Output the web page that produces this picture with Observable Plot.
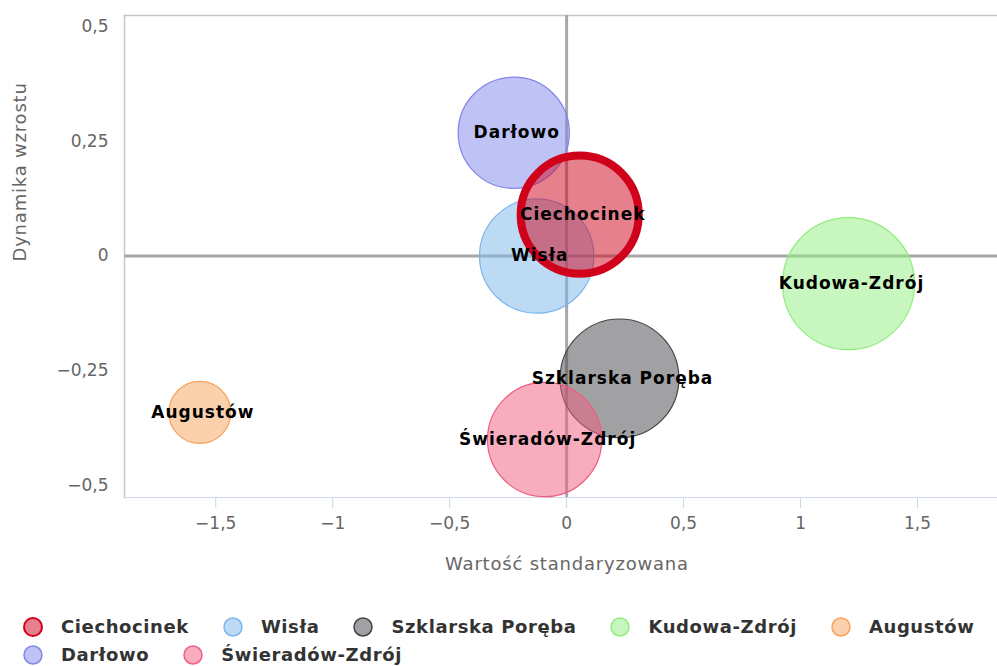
<!DOCTYPE html>
<html><head><meta charset="utf-8">
<script src="https://cdn.jsdelivr.net/npm/d3@7"></script>
<script src="https://cdn.jsdelivr.net/npm/@observablehq/plot@0.6"></script>
<style>
body{margin:0;background:#fff;}
#chart{position:absolute;left:0;top:0;}
#legend{position:absolute;left:23px;top:616px;width:974px;display:flex;flex-wrap:wrap;column-gap:34px;row-gap:7px;
  font-family:'DejaVu Sans',sans-serif;font-weight:bold;font-size:18px;color:#333;letter-spacing:0.6px;}
#legend .item{display:inline-flex;align-items:center;height:21px;white-space:nowrap;}
#legend .item svg{margin-right:18px;flex:none;}
</style></head><body>
<div id="chart"></div><div id="legend"></div>
<script>
const names = ["Ciechocinek","Wisła","Szklarska Poręba","Kudowa-Zdrój","Augustów","Darłowo","Świeradów-Zdrój"];
const xValues = [0.056, -0.128, 0.226, 1.205, -1.568, -0.226, -0.094];
const yValues = [0.090, 0.000, -0.266, -0.060, -0.340, 0.268, -0.399];
const sizes = [80, 75, 81, 100, 22, 71, 75];
const colors = ["#d0021b","#7cb5ec","#434348","#90ed7d","#f7a35c","#8085e9","#f15c80"];
const xTicks = [-1.5, -1, -0.5, 0, 0.5, 1, 1.5];
const yTicks = [-0.5, -0.25, 0, 0.25, 0.5];
const xTitle = "Wartość standaryzowana";
const yTitle = "Dynamika wzrostu";
const highlighted = "Ciechocinek";

const data = names.map((name, i) => ({name, x: xValues[i], y: yValues[i], z: sizes[i], color: colors[i]}));
const drawOrder = [...data.filter(d => d.name !== highlighted), ...data.filter(d => d.name === highlighted)];
const fmt = d => String(d).replace(".", ",").replace("-", "\u2212");

const plot = Plot.plot({
  width: 997, height: 600,
  marginLeft: 124, marginRight: 0, marginTop: 15, marginBottom: 103,
  style: {fontFamily: "'DejaVu Sans', sans-serif", fontSize: "17px", color: "#666", background: "#fff"},
  x: {domain: [-1.89, 1.842]},
  y: {domain: [-0.525, 0.523]},
  r: {type: "sqrt", domain: [0, 100], range: [0, 66]},
  color: {type: "identity"},
  marks: [
    Plot.frame({anchor: "top", stroke: "#c6c6c6", strokeWidth: 1.5}),
    Plot.frame({anchor: "left", stroke: "#c6c6c6", strokeWidth: 1.5}),
    Plot.ruleY([0], {stroke: "#a8a8a8", strokeWidth: 3}),
    Plot.ruleX([0], {stroke: "#a8a8a8", strokeWidth: 3}),
    Plot.frame({anchor: "bottom", stroke: "#ccd6eb", strokeWidth: 1}),
    Plot.axisX({ticks: xTicks, tickSize: 11, tickPadding: 8, stroke: "#ccd6eb", fill: "#666", tickFormat: fmt, fontSize: 17, label: null}),
    Plot.axisY({ticks: yTicks, tickSize: 0, tickPadding: 16, fill: "#666", tickFormat: fmt, fontSize: 17, label: null}),
    Plot.text([xTitle], {text: d => d, frameAnchor: "bottom", dy: 72, dx: 6, fontSize: 18, fill: "#666"}),
    Plot.text([yTitle], {text: d => d, frameAnchor: "left", rotate: -90, dx: -104, dy: 5, fontSize: 18, fill: "#666"}),
    Plot.dot(drawOrder, {
      x: "x", y: "y", r: "z", sort: null,
      fill: "color", fillOpacity: 0.5,
      stroke: "color", strokeWidth: d => d.name === highlighted ? 8 : 1.2
    }),
    Plot.text(data, {x: "x", y: "y", text: "name", dx: 3, fill: "#000", fontWeight: "bold", fontSize: 17})
  ]
});
// letter spacing for the title and bubble-label text marks (in mark order)
const textGroups = plot.querySelectorAll('g[aria-label="text"]');
if (textGroups.length >= 3) {
  textGroups[0].style.letterSpacing = "0.8px";
  textGroups[1].style.letterSpacing = "0.8px";
  textGroups[2].style.letterSpacing = "1px";
}
document.getElementById("chart").appendChild(plot);

const legend = document.getElementById("legend");
names.forEach((name, i) => {
  const item = document.createElement("span");
  item.className = "item";
  const sw = name === highlighted ? 2 : 1.5;
  item.innerHTML = `<svg width="20" height="20"><circle cx="10" cy="10" r="9" fill="${colors[i]}" fill-opacity="0.5" stroke="${colors[i]}" stroke-width="${sw}"/></svg>`;
  const label = document.createElement("span");
  label.textContent = name;
  item.appendChild(label);
  legend.appendChild(item);
});
</script>
</body></html>
